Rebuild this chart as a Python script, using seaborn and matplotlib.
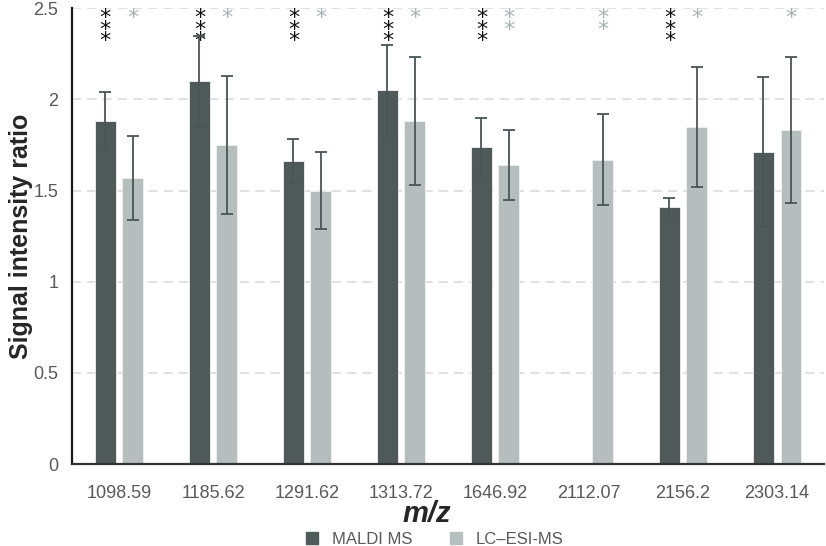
import matplotlib
matplotlib.use("Agg")
import matplotlib.pyplot as plt
from matplotlib.lines import Line2D
import seaborn as sns
import pandas as pd
import numpy as np

mz_labels = ["1098.59", "1185.62", "1291.62", "1313.72", "1646.92", "2112.07", "2156.2", "2303.14"]
maldi = [1.88, 2.10, 1.66, 2.05, 1.74, np.nan, 1.41, 1.71]
maldi_err = [0.16, 0.25, 0.12, 0.25, 0.16, np.nan, 0.05, 0.41]
lcesi = [1.57, 1.75, 1.50, 1.88, 1.64, 1.67, 1.85, 1.83]
lcesi_err = [0.23, 0.38, 0.21, 0.35, 0.19, 0.25, 0.33, 0.40]
maldi_stars = [3, 3, 3, 3, 3, 0, 3, 0]
lcesi_stars = [1, 1, 1, 1, 2, 2, 1, 1]
series = ["MALDI MS", "LC\u2013ESI-MS"]

c_dark = "#4d5b5b"
c_light = "#b4bfbe"
c_err = "#4a5555"
c_star_light = "#a7b3b2"

sns.set_theme(style="white")
plt.rcParams["font.family"] = ["Liberation Sans Narrow", "Liberation Sans", "DejaVu Sans"]

df = pd.DataFrame({
    "mz": mz_labels * 2,
    "ratio": maldi + lcesi,
    "err": maldi_err + lcesi_err,
    "method": [series[0]] * len(mz_labels) + [series[1]] * len(mz_labels),
})

fig = plt.figure(figsize=(8.26, 5.46), dpi=100)
ax = fig.add_axes([0.0872, 0.150, 0.9105, 0.835])

sns.barplot(data=df, x="mz", y="ratio", hue="method", order=mz_labels,
            hue_order=series, palette=[c_dark, c_light], width=0.58, gap=0.25,
            errorbar=None, legend=False, ax=ax, edgecolor="#eef2f2", linewidth=0.6)

off = 0.145
xs = np.arange(len(mz_labels))
ax.errorbar(xs - off, maldi, yerr=maldi_err, fmt="none", ecolor=c_err,
            elinewidth=1.3, capsize=4.5, capthick=1.3, zorder=5)
ax.errorbar(xs + off, lcesi, yerr=lcesi_err, fmt="none", ecolor=c_err,
            elinewidth=1.3, capsize=4.5, capthick=1.3, zorder=5)

for i in range(len(mz_labels)):
    if maldi_stars[i]:
        ax.annotate("\n".join(["*"] * maldi_stars[i]), xy=(i - off, 2.5),
                    xytext=(0, 0), textcoords="offset points", ha="center", va="top",
                    fontsize=16, linespacing=0.46, color="#111111",
                    family="DejaVu Sans", annotation_clip=False)
    if lcesi_stars[i]:
        ax.annotate("\n".join(["*"] * lcesi_stars[i]), xy=(i + off, 2.5),
                    xytext=(0, 0), textcoords="offset points", ha="center", va="top",
                    fontsize=16, linespacing=0.46, color=c_star_light,
                    family="DejaVu Sans", annotation_clip=False)

ax.set_ylim(0, 2.5)
ax.set_xlim(-0.5, len(mz_labels) - 0.5)
ax.set_yticks([0, 0.5, 1, 1.5, 2, 2.5])
ax.set_yticklabels(["0", "0.5", "1", "1.5", "2", "2.5"])
ax.yaxis.grid(True, color="#d9d9d9", linestyle=(0, (6, 4)), linewidth=1.1)
ax.set_axisbelow(True)
ax.tick_params(axis="both", length=0, labelsize=13, labelcolor="#595959")
ax.tick_params(axis="x", pad=15)
ax.tick_params(axis="y", pad=10)
for s in ["top", "right"]:
    ax.spines[s].set_visible(False)
ax.spines["left"].set_color("#1a1a1a")
ax.spines["left"].set_linewidth(1.6)
ax.spines["bottom"].set_color("#333333")
ax.spines["bottom"].set_linewidth(1.6)

ax.set_xlabel("m/z", fontsize=21, fontweight="bold", style="italic",
              family=["Liberation Sans", "DejaVu Sans"])
ax.xaxis.set_label_coords(0.472, -0.079)
ax.set_ylabel("Signal intensity ratio", fontsize=18, fontweight="bold",
              family=["Liberation Sans", "DejaVu Sans"])
ax.yaxis.set_label_coords(-0.052, 0.50)

handles = [Line2D([], [], marker="s", linestyle="none", markersize=8,
                  markerfacecolor=c, markeredgecolor=c) for c in (c_dark, c_light)]
fig.legend(handles, series, loc="center", bbox_to_anchor=(0.52, 0.012),
           ncol=2, frameon=False, fontsize=12, handletextpad=0.2, columnspacing=1.6,
           labelcolor="#595959", borderpad=0)

fig.savefig("out.png", dpi=100)
